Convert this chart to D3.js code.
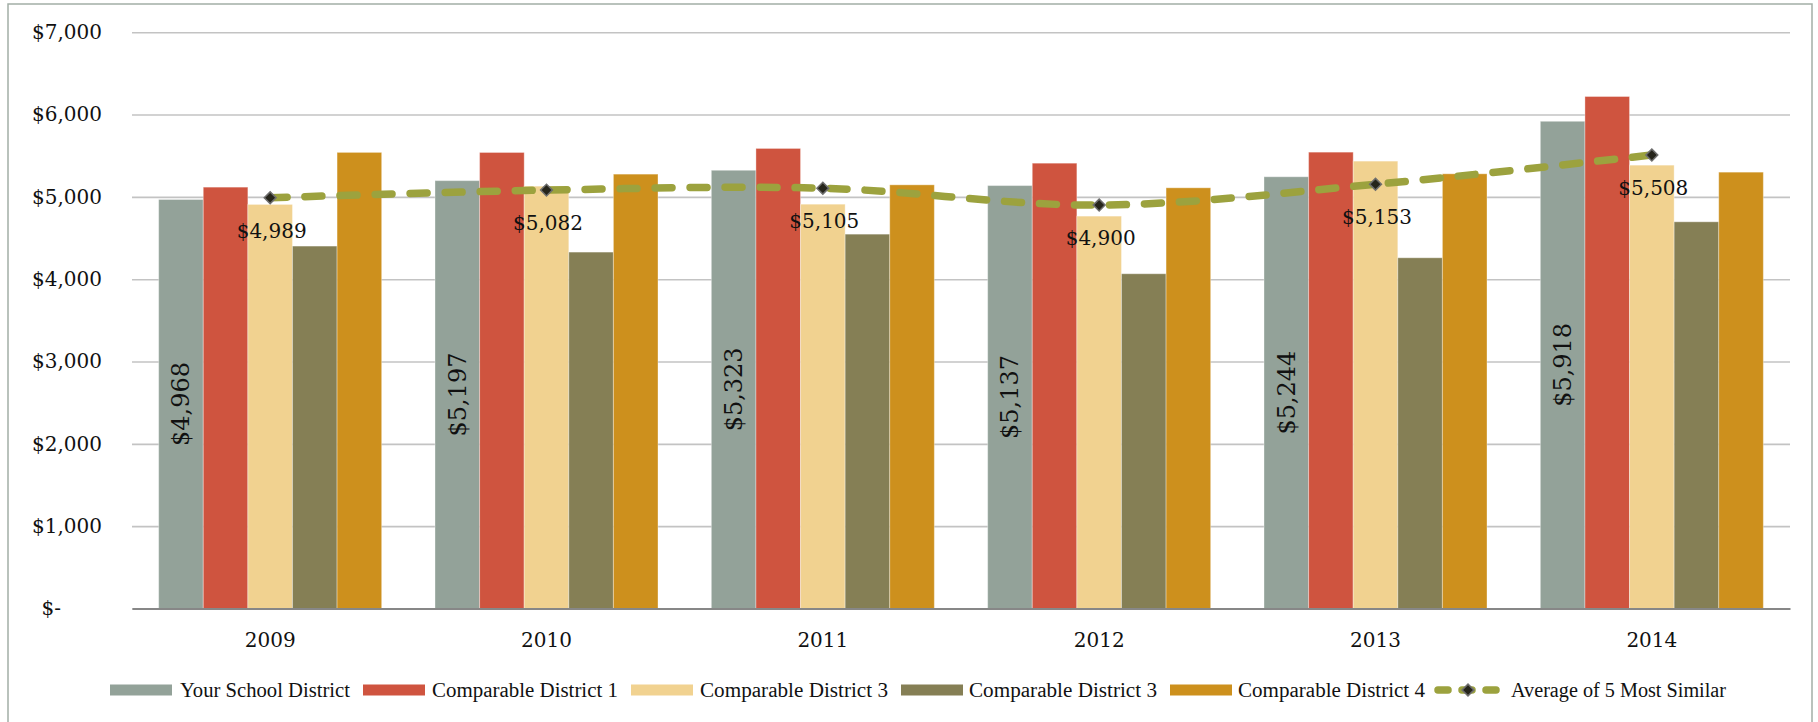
<!DOCTYPE html>
<html>
<head>
<meta charset="utf-8">
<script src="https://cdn.jsdelivr.net/npm/d3@7"></script>
<style>
  html, body { margin: 0; padding: 0; background: #fff; }
  svg { display: block; }
</style>
</head>
<body>
<svg id="chart" width="1818" height="722"></svg>
<script>
const years = ["2009", "2010", "2011", "2012", "2013", "2014"];
const seriesNames = ["Your School District", "Comparable District 1", "Comparable District 3", "Comparable District 3", "Comparable District 4"];
const yourDistrict = [4968, 5197, 5323, 5137, 5244, 5918];
const comparable1 = [5118, 5539, 5588, 5409, 5543, 6219];
const comparable3a = [4908, 5130, 4911, 4766, 5434, 5385];
const comparable3b = [4402, 4329, 4547, 4066, 4260, 4697];
const comparable4 = [5540, 5276, 5146, 5110, 5280, 5300];
const average = [4989, 5082, 5105, 4900, 5153, 5508];
const lineName = "Average of 5 Most Similar";
const yTicks = [0, 1000, 2000, 3000, 4000, 5000, 6000, 7000];

const seriesValues = [yourDistrict, comparable1, comparable3a, comparable3b, comparable4];
const colors = ["#93a299", "#cf543f", "#f1d290", "#857f55", "#cd901d"];
const lineColor = "#9ca23e";

const svg = d3.select("#chart");
const numFont = "'DejaVu Serif', serif";
const legFont = "'Liberation Serif', serif";

// frame
svg.append("rect").attr("x", 8).attr("y", 4).attr("width", 1804).attr("height", 740)
  .attr("fill", "none").attr("stroke", "#a3aea6").attr("stroke-width", 1.5);

const plotLeft = 132, plotRight = 1790, plotTop = 32.2, plotBottom = 608.5;

const x = d3.scaleBand().domain(years).range([plotLeft, plotRight]).paddingInner(0.193).paddingOuter(0.0965);
const xs = d3.scaleBand().domain(d3.range(seriesValues.length)).range([0, x.bandwidth()]);
const y = d3.scaleLinear().domain([0, 7000]).range([plotBottom, plotTop]);

// y axis with gridlines
const fmt = v => v === 0 ? "$-" : "$" + d3.format(",")(v);
const yAxis = svg.append("g").attr("transform", `translate(${plotLeft},0)`)
  .call(d3.axisLeft(y).tickValues(yTicks).tickSize(-(plotRight - plotLeft)).tickPadding(30).tickFormat(fmt));
yAxis.select(".domain").remove();
yAxis.selectAll(".tick line").attr("stroke", "#c3c3c3").attr("stroke-width", 1.6);
yAxis.selectAll(".tick text").attr("font-family", numFont).attr("font-size", 20).attr("fill", "#111");
yAxis.selectAll(".tick").filter(d => d === 0).select("text").attr("x", -71);

// bars
const groups = svg.append("g").selectAll("g").data(years).join("g")
  .attr("transform", d => `translate(${x(d)},0)`);
groups.selectAll("rect").data((d, i) => seriesValues.map((s, k) => ({ k, v: s[i] }))).join("rect")
  .attr("x", d => xs(d.k))
  .attr("y", d => y(d.v))
  .attr("width", xs.bandwidth())
  .attr("height", d => y(0) - y(d.v))
  .attr("fill", d => colors[d.k])
  .attr("stroke", "rgba(255,255,255,0.35)").attr("stroke-width", 1);

// x axis
const xAxis = svg.append("g").attr("transform", `translate(0,${plotBottom})`)
  .call(d3.axisBottom(x).tickSize(0).tickPadding(0));
xAxis.select(".domain").attr("stroke", "#878787").attr("stroke-width", 2.2);
xAxis.selectAll(".tick text").attr("font-family", numFont).attr("font-size", 20).attr("fill", "#111")
  .attr("y", 31.5).attr("dy", "0.35em");

// rotated labels in first series bars
svg.append("g").selectAll("text").data(years).join("text")
  .attr("transform", (d, i) => {
    const cx = x(d) + xs(0) + xs.bandwidth() / 2;
    const cy = (y(yourDistrict[i]) + y(0)) / 2;
    return `translate(${cx},${cy}) rotate(-90)`;
  })
  .attr("text-anchor", "middle").attr("dy", "0.35em")
  .attr("font-family", numFont).attr("font-size", 24).attr("fill", "#111")
  .text((d, i) => "$" + d3.format(",")(yourDistrict[i]));

// average line
const cxOf = d => x(d) + x.bandwidth() / 2;
const line = d3.line().x((d, i) => cxOf(years[i])).y(d => y(d)).curve(d3.curveCatmullRom.alpha(0));
svg.append("path").datum(average).attr("d", line)
  .attr("fill", "none").attr("stroke", lineColor).attr("stroke-width", 7.5)
  .attr("stroke-linecap", "round").attr("stroke-dasharray", "17,18");

const diamond = d3.symbol().type(d3.symbolSquare).size(70);
svg.append("g").selectAll("path").data(average).join("path")
  .attr("d", diamond)
  .attr("transform", (d, i) => `translate(${cxOf(years[i])},${y(d)}) rotate(45)`)
  .attr("fill", "#26251b").attr("stroke", "#6e6e6e").attr("stroke-width", 1.5);

svg.append("g").selectAll("text").data(average).join("text")
  .attr("x", (d, i) => cxOf(years[i]) + 1.5)
  .attr("y", d => y(d) + 33)
  .attr("dy", "0.35em").attr("text-anchor", "middle")
  .attr("font-family", numFont).attr("font-size", 20).attr("fill", "#111")
  .text(d => "$" + d3.format(",")(d));

// legend
const legY = 690;
const legSwatchX = [110, 363, 631, 901, 1170];
const legTextX = [180, 432, 700, 969, 1238];
const legTextW = [170, 186, 188, 188, 187];
const leg = svg.append("g");
seriesNames.forEach((name, k) => {
  leg.append("rect").attr("x", legSwatchX[k]).attr("y", legY - 5.5).attr("width", 62).attr("height", 11)
    .attr("fill", colors[k]);
  leg.append("text").attr("x", legTextX[k]).attr("y", legY).attr("dy", "0.35em")
    .attr("font-family", legFont).attr("font-size", 20.5).attr("fill", "#111")
    .attr("textLength", legTextW[k]).attr("lengthAdjust", "spacingAndGlyphs")
    .text(name);
});
leg.append("line").attr("x1", 1438).attr("x2", 1500).attr("y1", legY).attr("y2", legY)
  .attr("stroke", lineColor).attr("stroke-width", 7.5).attr("stroke-linecap", "round")
  .attr("stroke-dasharray", "10,14");
leg.append("path").attr("d", diamond).attr("transform", `translate(1468,${legY}) rotate(45)`)
  .attr("fill", "#26251b").attr("stroke", "#6e6e6e").attr("stroke-width", 1.5);
leg.append("text").attr("x", 1511).attr("y", legY).attr("dy", "0.35em")
  .attr("font-family", legFont).attr("font-size", 20.5).attr("fill", "#111")
  .attr("textLength", 215).attr("lengthAdjust", "spacingAndGlyphs")
  .text(lineName);
</script>
</body>
</html>
